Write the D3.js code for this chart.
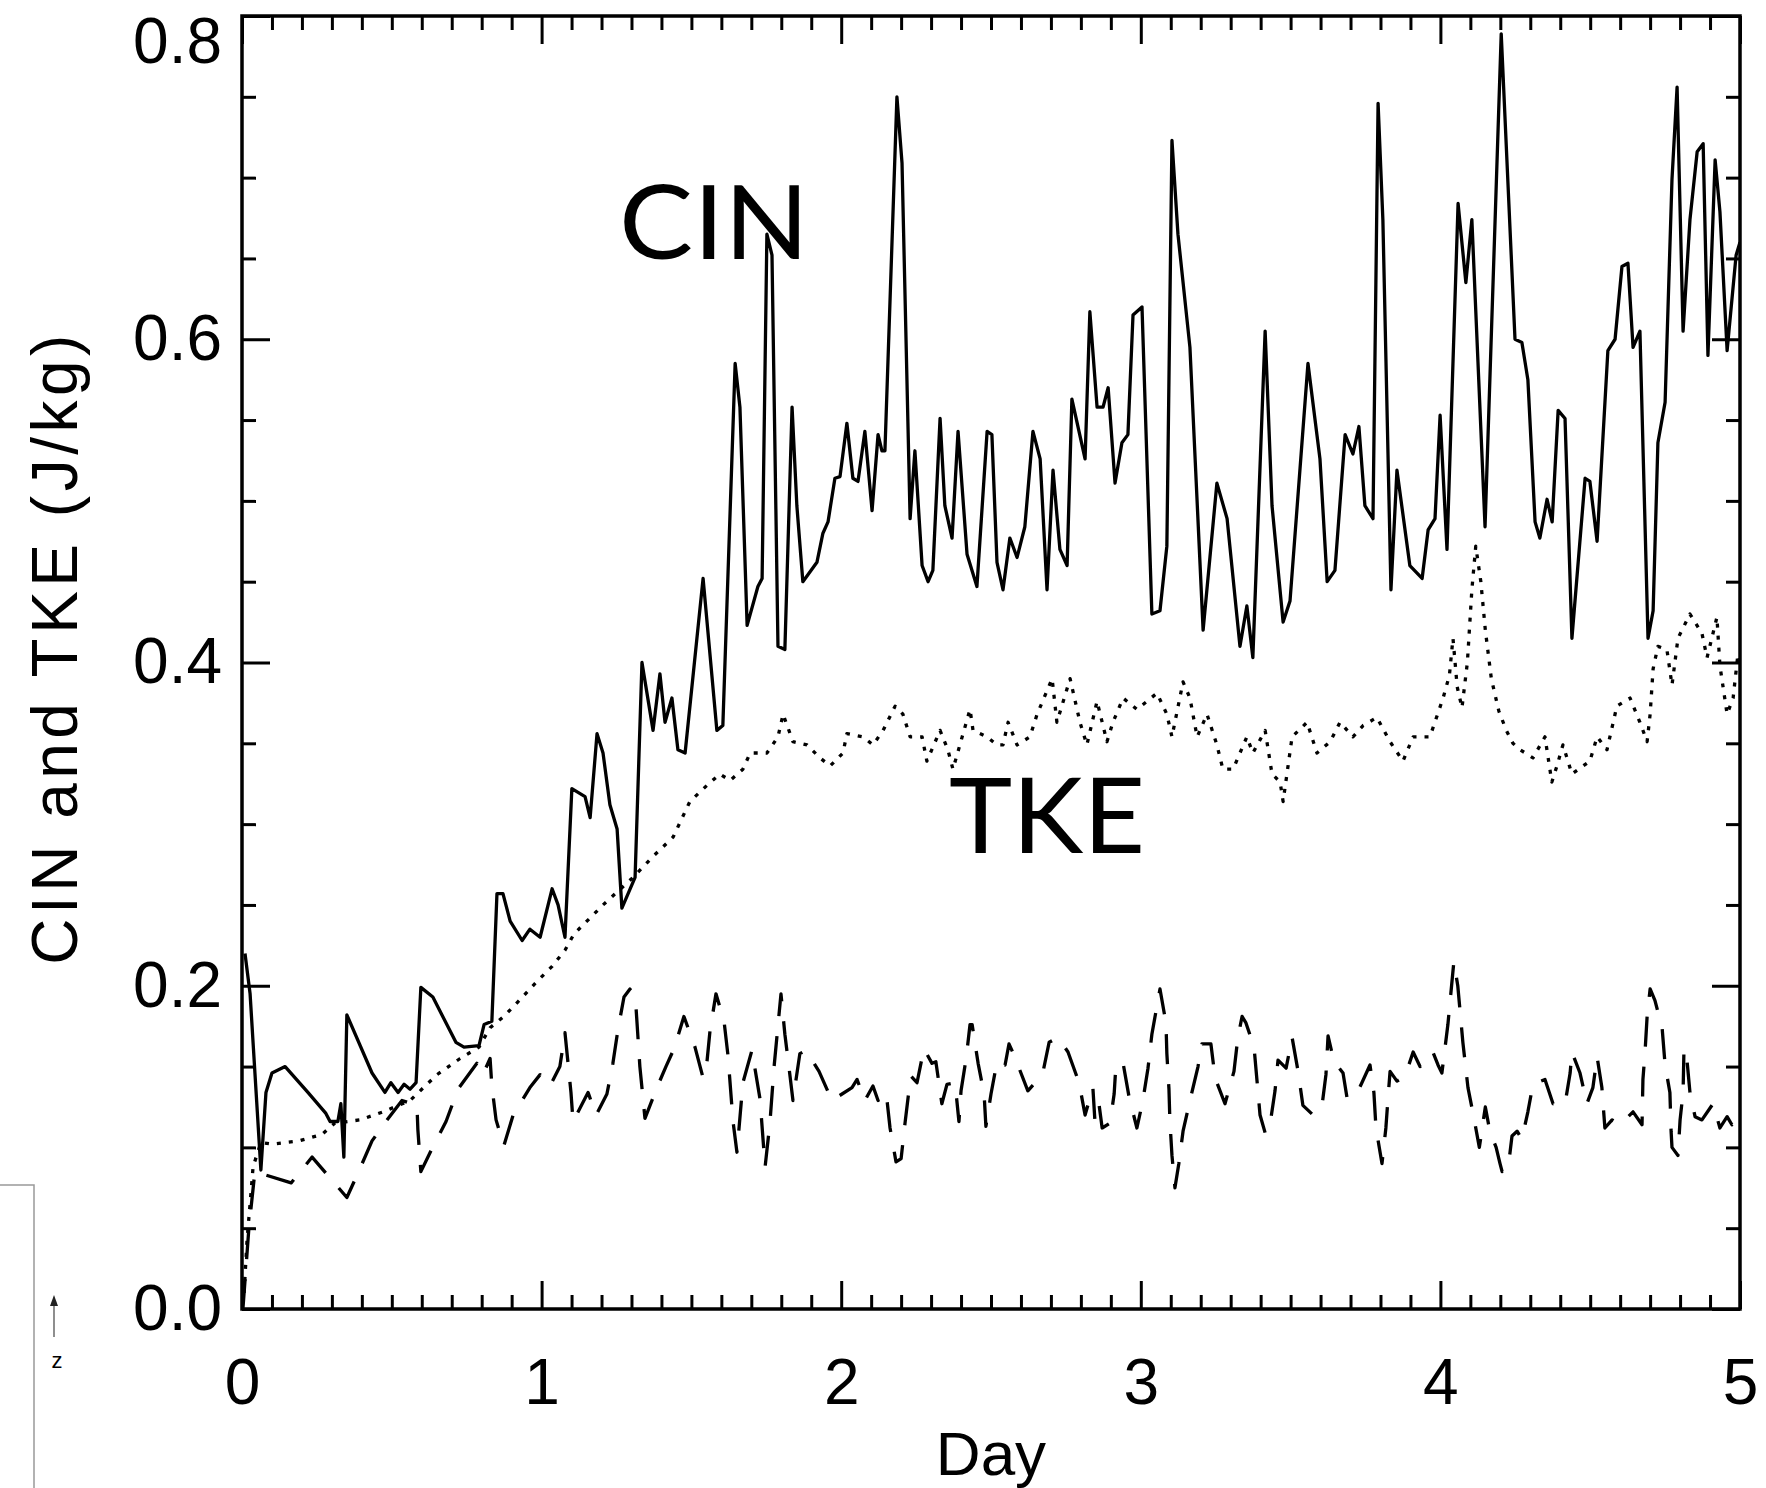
<!DOCTYPE html>
<html>
<head>
<meta charset="utf-8">
<script src="https://cdn.jsdelivr.net/npm/d3@7"></script>
<style>
  body { margin: 0; background: #fff; }
  svg { display: block; }
</style>
</head>
<body>
<div class="chart"></div>
<script>
"use strict";

// DATA ----------------------------------
// [day, J/kg] vertices
const cin = [
  [0.010,0.220],[0.027,0.195],[0.063,0.086],[0.080,0.134],[0.100,0.146],[0.144,0.150],[0.220,0.134],[0.280,0.121],[0.294,0.116],[0.320,0.116],
  [0.330,0.127],[0.340,0.094],[0.350,0.182],[0.434,0.146],[0.477,0.134],[0.497,0.140],[0.521,0.134],[0.541,0.139],[0.561,0.136],[0.581,0.140],
  [0.597,0.199],[0.637,0.193],[0.714,0.165],[0.741,0.162],[0.791,0.163],[0.808,0.176],[0.834,0.178],[0.851,0.257],[0.871,0.257],[0.895,0.240],
  [0.935,0.228],[0.961,0.235],[0.995,0.230],[1.035,0.260],[1.055,0.250],[1.078,0.230],[1.101,0.322],[1.145,0.317],[1.162,0.304],[1.185,0.356],
  [1.205,0.344],[1.228,0.312],[1.252,0.297],[1.268,0.248],[1.312,0.267],[1.335,0.400],[1.372,0.358],[1.395,0.393],[1.412,0.363],[1.435,0.378],
  [1.455,0.346],[1.479,0.344],[1.539,0.452],[1.585,0.358],[1.605,0.361],[1.646,0.585],[1.662,0.558],[1.686,0.423],[1.722,0.447],[1.736,0.452],
  [1.752,0.665],[1.769,0.652],[1.789,0.410],[1.812,0.408],[1.836,0.558],[1.852,0.497],[1.872,0.450],[1.919,0.462],[1.939,0.480],[1.956,0.487],
  [1.979,0.514],[1.996,0.515],[2.019,0.548],[2.039,0.514],[2.056,0.512],[2.079,0.543],[2.103,0.494],[2.123,0.541],[2.136,0.531],[2.146,0.531],
  [2.186,0.750],[2.203,0.709],[2.230,0.489],[2.246,0.531],[2.270,0.460],[2.290,0.450],[2.306,0.457],[2.330,0.551],[2.346,0.497],[2.370,0.477],
  [2.390,0.543],[2.420,0.467],[2.453,0.447],[2.487,0.543],[2.503,0.541],[2.520,0.462],[2.540,0.445],[2.563,0.477],[2.587,0.465],[2.613,0.484],
  [2.640,0.543],[2.664,0.526],[2.687,0.445],[2.707,0.519],[2.730,0.470],[2.754,0.460],[2.770,0.563],[2.814,0.526],[2.830,0.617],[2.854,0.558],
  [2.874,0.558],[2.891,0.570],[2.914,0.511],[2.937,0.536],[2.957,0.541],[2.974,0.615],[3.004,0.620],[3.037,0.430],[3.064,0.432],[3.087,0.472],
  [3.104,0.723],[3.124,0.665],[3.164,0.595],[3.208,0.420],[3.254,0.511],[3.288,0.489],[3.331,0.410],[3.354,0.435],[3.374,0.403],[3.415,0.605],
  [3.438,0.497],[3.475,0.425],[3.498,0.438],[3.558,0.585],[3.598,0.526],[3.622,0.450],[3.648,0.457],[3.682,0.541],[3.708,0.529],[3.728,0.546],
  [3.748,0.497],[3.775,0.489],[3.792,0.746],[3.808,0.674],[3.835,0.445],[3.855,0.519],[3.898,0.460],[3.939,0.452],[3.959,0.482],[3.982,0.489],
  [3.999,0.553],[4.022,0.470],[4.059,0.684],[4.085,0.635],[4.105,0.674],[4.149,0.484],[4.203,0.789],[4.249,0.600],[4.272,0.598],[4.292,0.575],
  [4.316,0.487],[4.332,0.477],[4.356,0.501],[4.373,0.487],[4.393,0.556],[4.416,0.551],[4.439,0.415],[4.483,0.514],[4.499,0.512],[4.523,0.475],
  [4.559,0.593],[4.583,0.600],[4.606,0.645],[4.626,0.647],[4.643,0.595],[4.666,0.605],[4.693,0.415],[4.710,0.432],[4.726,0.536],[4.750,0.561],
  [4.773,0.699],[4.790,0.756],[4.810,0.605],[4.833,0.674],[4.857,0.716],[4.877,0.721],[4.893,0.590],[4.917,0.711],[4.933,0.679],[4.957,0.593],
  [4.987,0.652],[5.000,0.660]
];

const tke = [
  [0.007,0.010],[0.017,0.043],[0.030,0.072],[0.037,0.088],[0.063,0.103],[0.100,0.102],[0.190,0.104],[0.267,0.108],[0.310,0.115],[0.394,0.117],
  [0.471,0.122],[0.561,0.129],[0.651,0.145],[0.728,0.155],[0.791,0.162],[0.828,0.174],[0.874,0.181],[0.931,0.192],[0.981,0.202],[1.035,0.212],
  [1.078,0.222],[1.108,0.232],[1.162,0.242],[1.205,0.250],[1.305,0.267],[1.372,0.280],[1.439,0.292],[1.495,0.314],[1.552,0.324],[1.595,0.331],
  [1.629,0.327],[1.672,0.334],[1.696,0.344],[1.752,0.344],[1.789,0.354],[1.806,0.368],[1.839,0.351],[1.886,0.349],[1.929,0.341],[1.963,0.336],
  [2.006,0.344],[2.019,0.356],[2.073,0.354],[2.106,0.349],[2.140,0.358],[2.180,0.373],[2.206,0.368],[2.230,0.354],[2.270,0.354],[2.286,0.339],
  [2.330,0.358],[2.356,0.346],[2.373,0.334],[2.430,0.371],[2.440,0.358],[2.487,0.354],[2.520,0.349],[2.540,0.349],[2.557,0.363],[2.587,0.349],
  [2.630,0.354],[2.654,0.368],[2.704,0.390],[2.720,0.363],[2.764,0.390],[2.797,0.363],[2.820,0.349],[2.854,0.376],[2.887,0.351],[2.907,0.363],
  [2.941,0.378],[2.987,0.371],[3.054,0.381],[3.087,0.368],[3.104,0.354],[3.141,0.388],[3.164,0.378],[3.188,0.354],[3.221,0.368],[3.254,0.349],
  [3.274,0.334],[3.308,0.334],[3.354,0.354],[3.374,0.344],[3.415,0.358],[3.438,0.331],[3.465,0.326],[3.475,0.314],[3.505,0.354],[3.555,0.363],
  [3.588,0.344],[3.632,0.351],[3.665,0.363],[3.708,0.354],[3.742,0.361],[3.788,0.366],[3.832,0.351],[3.875,0.339],[3.909,0.354],[3.965,0.354],
  [4.009,0.378],[4.030,0.392],[4.042,0.415],[4.056,0.385],[4.072,0.372],[4.090,0.400],[4.105,0.445],[4.118,0.472],[4.135,0.450],[4.150,0.420],
  [4.170,0.390],[4.195,0.370],[4.220,0.358],[4.242,0.350],[4.266,0.346],[4.309,0.341],[4.349,0.354],[4.372,0.326],[4.389,0.336],[4.409,0.349],
  [4.439,0.331],[4.499,0.339],[4.523,0.354],[4.556,0.346],[4.589,0.373],[4.633,0.378],[4.666,0.363],[4.690,0.351],[4.700,0.368],[4.710,0.396],
  [4.726,0.410],[4.756,0.408],[4.773,0.386],[4.793,0.415],[4.833,0.430],[4.873,0.418],[4.890,0.403],[4.923,0.428],[4.933,0.398],[4.957,0.368],
  [4.977,0.378],[4.993,0.405],[5.000,0.400]
];

// third (unlabelled, dashed) series
const third = [
  [0.003,0.000],[0.023,0.050],[0.043,0.085],[0.164,0.078],[0.234,0.094],[0.350,0.069],[0.387,0.084],[0.434,0.104],[0.484,0.117],[0.534,0.129],
  [0.584,0.126],[0.587,0.111],[0.597,0.085],[0.631,0.098],[0.681,0.116],[0.721,0.136],[0.784,0.152],[0.804,0.145],[0.828,0.155],[0.834,0.138],
  [0.848,0.117],[0.874,0.101],[0.905,0.120],[0.961,0.137],[0.995,0.145],[1.028,0.138],[1.061,0.150],[1.078,0.171],[1.098,0.134],[1.105,0.116],
  [1.155,0.134],[1.182,0.120],[1.218,0.133],[1.238,0.152],[1.255,0.173],[1.275,0.193],[1.295,0.198],[1.315,0.187],[1.328,0.150],[1.345,0.118],
  [1.385,0.137],[1.415,0.150],[1.442,0.161],[1.475,0.181],[1.512,0.162],[1.539,0.143],[1.552,0.153],[1.562,0.172],[1.582,0.195],[1.609,0.178],
  [1.622,0.157],[1.639,0.116],[1.652,0.097],[1.672,0.140],[1.702,0.160],[1.729,0.130],[1.746,0.088],[1.762,0.115],[1.776,0.150],[1.799,0.195],
  [1.812,0.170],[1.826,0.149],[1.839,0.129],[1.862,0.158],[1.883,0.160],[1.926,0.147],[1.969,0.129],[2.036,0.137],[2.053,0.142],[2.079,0.129],
  [2.106,0.138],[2.123,0.129],[2.150,0.134],[2.163,0.112],[2.183,0.091],[2.200,0.093],[2.213,0.115],[2.226,0.135],[2.233,0.144],[2.253,0.140],
  [2.276,0.161],[2.303,0.152],[2.316,0.153],[2.336,0.127],[2.353,0.139],[2.380,0.140],[2.393,0.116],[2.400,0.135],[2.417,0.155],[2.430,0.176],
  [2.437,0.176],[2.457,0.152],[2.477,0.133],[2.483,0.113],[2.500,0.133],[2.520,0.153],[2.547,0.151],[2.560,0.164],[2.577,0.157],[2.623,0.135],
  [2.647,0.140],[2.674,0.147],[2.694,0.165],[2.724,0.168],[2.757,0.159],[2.794,0.140],[2.814,0.120],[2.840,0.137],[2.847,0.116],[2.861,0.126],
  [2.871,0.112],[2.897,0.115],[2.911,0.133],[2.917,0.151],[2.941,0.152],[2.961,0.131],[2.987,0.112],[3.007,0.129],[3.024,0.149],[3.037,0.170],
  [3.064,0.198],[3.084,0.177],[3.087,0.158],[3.094,0.136],[3.097,0.117],[3.104,0.095],[3.114,0.075],[3.127,0.090],[3.141,0.110],[3.164,0.129],
  [3.191,0.150],[3.204,0.164],[3.234,0.164],[3.248,0.143],[3.281,0.127],[3.311,0.147],[3.324,0.168],[3.338,0.181],[3.351,0.177],[3.378,0.162],
  [3.388,0.141],[3.398,0.120],[3.415,0.109],[3.428,0.110],[3.448,0.135],[3.458,0.154],[3.485,0.149],[3.505,0.168],[3.525,0.147],[3.541,0.126],
  [3.575,0.120],[3.605,0.126],[3.618,0.145],[3.625,0.169],[3.645,0.153],[3.675,0.146],[3.688,0.131],[3.715,0.131],[3.738,0.140],[3.765,0.151],
  [3.778,0.134],[3.785,0.112],[3.805,0.090],[3.818,0.112],[3.825,0.130],[3.832,0.147],[3.855,0.141],[3.882,0.144],[3.909,0.159],[3.932,0.150],
  [3.959,0.154],[3.975,0.159],[3.992,0.151],[4.005,0.146],[4.025,0.176],[4.045,0.215],[4.058,0.200],[4.075,0.165],[4.092,0.137],[4.110,0.120],
  [4.130,0.100],[4.150,0.125],[4.165,0.110],[4.186,0.100],[4.199,0.090],[4.206,0.085],[4.226,0.087],[4.239,0.107],[4.256,0.110],[4.272,0.105],
  [4.292,0.122],[4.309,0.139],[4.349,0.142],[4.376,0.127],[4.416,0.127],[4.433,0.146],[4.439,0.159],[4.466,0.146],[4.489,0.127],[4.509,0.137],
  [4.523,0.156],[4.539,0.137],[4.549,0.112],[4.573,0.117],[4.599,0.114],[4.643,0.122],[4.673,0.114],[4.676,0.142],[4.683,0.159],[4.690,0.181],
  [4.700,0.198],[4.716,0.191],[4.740,0.174],[4.750,0.151],[4.766,0.134],[4.770,0.110],[4.773,0.100],[4.793,0.095],[4.800,0.117],[4.810,0.134],
  [4.813,0.161],[4.823,0.154],[4.833,0.134],[4.850,0.119],[4.873,0.117],[4.910,0.127],[4.933,0.112],[4.957,0.119],[4.973,0.114],[4.990,0.122],
  [5.000,0.120]
];

const xMajorTicks = [0, 1, 2, 3, 4, 5];
const yMajorTicks = [0, 0.2, 0.4, 0.6, 0.8];
const xMinorTicks = d3.range(0, 50).map((i) => i / 10).filter((d) => !xMajorTicks.includes(d));
const yMinorTicks = d3.range(0, 16).map((i) => i / 20).filter((d) => !yMajorTicks.includes(d));
const xTitle = "Day";
const yTitle = "CIN and TKE (J/kg)";

const MARGIN = { top: 16, right: 26, bottom: 179, left: 242 };
const WIDTH = 1766 - MARGIN.left - MARGIN.right,
  HEIGHT = 1488 - MARGIN.top - MARGIN.bottom;
const FONT = '"Liberation Sans", Arial, Helvetica, sans-serif';

// CHART INIT ----------------------------
const root = d3
  .select(".chart")
  .append("svg")
  .attr("width", 1766)
  .attr("height", 1488)
  .style("background", "#fff");

const svg = root
  .append("g")
  .attr("transform", "translate(" + MARGIN.left + "," + MARGIN.top + ")");

const xScale = d3.scaleLinear().domain([0, 5]).range([0, WIDTH]);
const yScale = d3.scaleLinear().domain([0, 0.8]).range([HEIGHT, 0]);

svg.append("clipPath").attr("id", "clip")
  .append("rect").attr("width", WIDTH).attr("height", HEIGHT);

// lines
const line = d3.line().x((d) => xScale(d[0])).y((d) => yScale(d[1]));
const series = [
  { data: cin, dash: null },
  { data: tke, dash: "4,8" },
  { data: third, dash: "30,20" }
];
svg.append("g").attr("clip-path", "url(#clip)")
  .selectAll("path")
  .data(series)
  .join("path")
  .attr("d", (d) => line(d.data))
  .attr("fill", "none")
  .attr("stroke", "#000")
  .attr("stroke-width", 3.3)
  .attr("stroke-linejoin", "round")
  .attr("stroke-dasharray", (d) => d.dash);

// axes (ticks pointing inward on all four sides)
function addAxis(axis, transform) {
  const g = svg.append("g").attr("transform", transform).call(axis);
  g.select(".domain").remove();
  g.selectAll("line").attr("stroke-width", 3);
  g.selectAll("text").style("font-family", FONT).style("font-size", "64px").attr("fill", "#000");
  return g;
}
const MAJ = 28, MIN = 14;
addAxis(d3.axisBottom(xScale).tickValues(xMajorTicks).tickSize(-MAJ).tickPadding(50).tickFormat(d3.format("d")), `translate(0,${HEIGHT})`);
addAxis(d3.axisBottom(xScale).tickValues(xMinorTicks).tickSize(-MIN).tickFormat(""), `translate(0,${HEIGHT})`);
addAxis(d3.axisTop(xScale).tickValues(xMajorTicks).tickSize(-MAJ).tickFormat(""), "translate(0,0)");
addAxis(d3.axisTop(xScale).tickValues(xMinorTicks).tickSize(-MIN).tickFormat(""), "translate(0,0)");
const yLeft = addAxis(d3.axisLeft(yScale).tickValues(yMajorTicks).tickSize(-MAJ).tickPadding(20).tickFormat(d3.format(".1f")), "translate(0,0)");
addAxis(d3.axisLeft(yScale).tickValues(yMinorTicks).tickSize(-MIN).tickFormat(""), "translate(0,0)");
addAxis(d3.axisRight(yScale).tickValues(yMajorTicks).tickSize(-MAJ).tickFormat(""), `translate(${WIDTH},0)`);
addAxis(d3.axisRight(yScale).tickValues(yMinorTicks).tickSize(-MIN).tickFormat(""), `translate(${WIDTH},0)`);
// top label sits inside the frame height
yLeft.selectAll(".tick text").filter((d) => d === 0.8).attr("y", 26);

// frame
svg.append("rect")
  .attr("width", WIDTH).attr("height", HEIGHT)
  .attr("fill", "none").attr("stroke", "#000").attr("stroke-width", 3.5);

// titles
svg.append("text")
  .attr("x", WIDTH / 2).attr("y", HEIGHT + 166)
  .attr("text-anchor", "middle")
  .style("font-family", FONT).style("font-size", "62px")
  .text(xTitle);

svg.append("text")
  .attr("transform", `translate(${77 - MARGIN.left},${HEIGHT / 2 - 15}) rotate(-90)`)
  .attr("text-anchor", "middle")
  .style("font-family", FONT).style("font-size", "64px")
  .style("letter-spacing", "4.5px")
  .text(yTitle);

// in-plot labels
svg.append("text").attr("x", 619 - MARGIN.left).attr("y", 259 - MARGIN.top)
  .attr("textLength", 190).attr("lengthAdjust", "spacingAndGlyphs")
  .style("font-family", "Lato, sans-serif").style("font-size", "102px")
  .text("CIN");
svg.append("text").attr("x", 949 - MARGIN.left).attr("y", 853 - MARGIN.top)
  .attr("textLength", 196).attr("lengthAdjust", "spacingAndGlyphs")
  .style("font-family", "Lato, sans-serif").style("font-size", "104px")
  .text("TKE");

// stray bits at the lower left of the page
root.append("path").attr("d", "M0,1185H34V1488")
  .attr("fill", "none").attr("stroke", "#999").attr("stroke-width", 1.5);
root.append("line").attr("x1", 54).attr("x2", 54).attr("y1", 1337).attr("y2", 1304)
  .attr("stroke", "#444").attr("stroke-width", 1.2);
root.append("path").attr("d", "M50,1306L58,1306L54,1295Z").attr("fill", "#222");
root.append("text").attr("x", 57).attr("y", 1368).attr("text-anchor", "middle")
  .style("font-family", FONT).style("font-size", "22px").text("z");
</script>
</body>
</html>
